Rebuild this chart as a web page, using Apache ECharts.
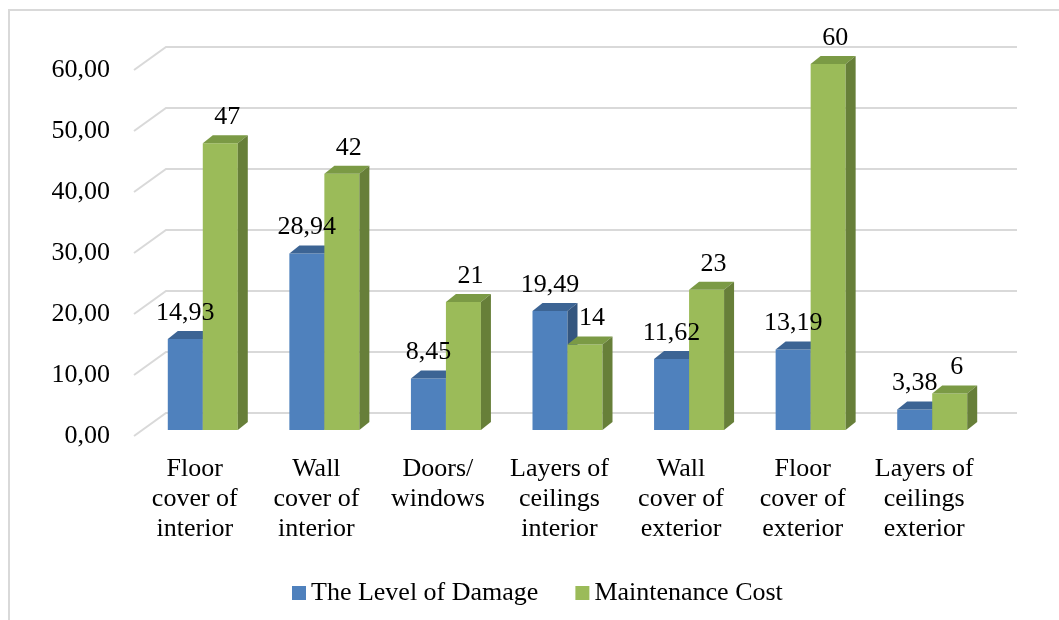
<!DOCTYPE html>
<html>
<head>
<meta charset="utf-8">
<script src="https://cdn.jsdelivr.net/npm/echarts@6/dist/echarts.min.js"></script>
<style>
  html, body { margin: 0; padding: 0; background: #fff; }
  #chart { width: 1059px; height: 620px; }
</style>
</head>
<body>
<div id="chart"></div>
<script>
const categories = ['Floor\ncover of\ninterior', 'Wall\ncover of\ninterior', 'Doors/\nwindows', 'Layers of\nceilings\ninterior', 'Wall\ncover of\nexterior', 'Floor\ncover of\nexterior', 'Layers of\nceilings\nexterior'];
const damage = [14.93, 28.94, 8.45, 19.49, 11.62, 13.19, 3.38];
const cost = [47, 42, 21, 14, 23, 60, 6];
const yTicks = [0, 10, 20, 30, 40, 50, 60];
const seriesNames = ['The Level of Damage', 'Maintenance Cost'];

const FONT = '"Liberation Serif", "Times New Roman", serif';
const WALL_DX = 32, WALL_DY = -23;      // depth of the back wall
const BAR_DX = 8, BAR_DY = -6;          // bar front plane offset
const BAR_W = 35, SIDE_DX = 10, SIDE_DY = -8;

function fmtComma(v) { return v.toFixed(2).replace('.', ','); }
function fmtInt(v) { return String(Math.round(v)); }

function gridRender(params, api) {
  const cs = params.coordSys;
  const p = api.coord([0, api.value(1)]);
  const x0 = cs.x, y = p[1];
  return {
    type: 'polyline',
    shape: { points: [[x0, y], [x0 + WALL_DX, y + WALL_DY], [x0 + cs.width + WALL_DX, y + WALL_DY]] },
    style: { stroke: '#D9D9D9', lineWidth: 2, fill: null }
  };
}

function barGeom(side, api) {
  const idx = api.value(0), val = api.value(1);
  const base = api.coord([idx, 0]);
  const tp = api.coord([idx, val]);
  const cx = base[0] + BAR_DX;
  const x1 = side === 0 ? cx - BAR_W : cx;
  return { val, x1, x2: x1 + BAR_W, yb: base[1] + BAR_DY, yt: tp[1] + BAR_DY };
}

function barRender(side, front, top, sideCol) {
  return function (params, api) {
    const g = barGeom(side, api);
    const { x1, x2, yb, yt } = g;
    return {
      type: 'group',
      children: [
        { type: 'rect', shape: { x: x1, y: yt, width: BAR_W, height: yb - yt }, style: { fill: front } },
        { type: 'polygon', shape: { points: [[x1, yt], [x2, yt], [x2 + SIDE_DX, yt + SIDE_DY], [x1 + SIDE_DX, yt + SIDE_DY]] }, style: { fill: top } },
        { type: 'polygon', shape: { points: [[x2, yt], [x2 + SIDE_DX, yt + SIDE_DY], [x2 + SIDE_DX, yb + SIDE_DY], [x2, yb]] }, style: { fill: sideCol } }
      ]
    };
  };
}

function labelRender(side, fmt, labelDx) {
  return function (params, api) {
    const g = barGeom(side, api);
    return { type: 'text', style: { text: fmt(g.val), x: (g.x1 + g.x2) / 2 + labelDx, y: g.yt - 26, align: 'center', verticalAlign: 'middle', fill: '#000', fontSize: 26, fontFamily: FONT } };
  };
}

const chart = echarts.init(document.getElementById('chart'), null, { renderer: 'canvas' });
chart.setOption({
  backgroundColor: '#fff',
  animation: false,
  graphic: [{
    type: 'rect', shape: { x: 9, y: 10, width: 1100, height: 700 },
    style: { fill: null, stroke: '#D9D9D9', lineWidth: 2 }, silent: true, z: 0
  }],
  grid: { left: 134, right: 74, top: 70, bottom: 184 },
  legend: {
    data: seriesNames,
    left: 287, top: 573,
    icon: 'rect', itemWidth: 14, itemHeight: 14, itemGap: 37,
    textStyle: { fontSize: 26, fontFamily: FONT, color: '#000', lineHeight: 30 }
  },
  xAxis: {
    type: 'category', data: categories, boundaryGap: true,
    axisLine: { show: false }, axisTick: { show: false }, splitLine: { show: false },
    axisLabel: { interval: 0, margin: 18, lineHeight: 30, fontSize: 26, fontFamily: FONT, color: '#000' }
  },
  yAxis: {
    type: 'value', min: 0, max: 60, interval: 10,
    axisLine: { show: false }, axisTick: { show: false }, splitLine: { show: false },
    axisLabel: { margin: 24, fontSize: 26, fontFamily: FONT, color: '#000', formatter: v => fmtComma(v) }
  },
  series: [
    { type: 'custom', name: '_grid', silent: true, z: 1, clip: false,
      data: yTicks.map(v => [0, v]), renderItem: gridRender },
    { type: 'custom', name: seriesNames[0], z: 2, clip: false, itemStyle: { color: '#4F81BD' },
      data: damage.map((v, i) => [i, v]),
      renderItem: barRender(0, '#4F81BD', '#3C6494', '#34567F') },
    { type: 'custom', name: seriesNames[1], z: 3, clip: false, itemStyle: { color: '#9BBB59' },
      data: cost.map((v, i) => [i, v]),
      renderItem: barRender(1, '#9BBB59', '#7B9A45', '#677F39') },
    { type: 'custom', name: '_lbl0', silent: true, z: 5, clip: false,
      data: damage.map((v, i) => [i, v]), renderItem: labelRender(0, fmtComma, 0) },
    { type: 'custom', name: '_lbl1', silent: true, z: 5, clip: false,
      data: cost.map((v, i) => [i, v]), renderItem: labelRender(1, fmtInt, 7) }
  ]
});
</script>
</body>
</html>
